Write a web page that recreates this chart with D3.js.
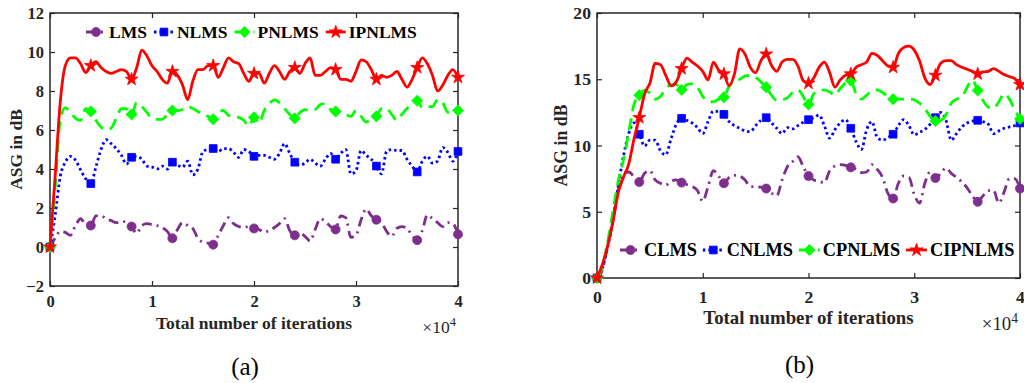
<!DOCTYPE html>
<html>
<head>
<meta charset="utf-8">
<script src="https://cdn.jsdelivr.net/npm/d3@7"></script>
<style>
  body { margin: 0; background: #fff; }
  text { font-family: "Liberation Serif", "Times New Roman", serif; }
</style>
</head>
<body>
<svg id="chart" width="1024" height="383"></svg>
<script>
// iteration grid shared by every series (every 500 iterations, 0 .. 40000)
const iterations = d3.range(0, 40001, 500);
const markerIters = d3.range(0, 40001, 4000);
const xTicks = [0, 10000, 20000, 30000, 40000];
const yTicksA = [-2, 0, 2, 4, 6, 8, 10, 12];
const yTicksB = [0, 5, 10, 15, 20];

const namesA = ["LMS", "NLMS", "PNLMS", "IPNLMS"];
const namesB = ["CLMS", "CNLMS", "CPNLMS", "CIPNLMS"];

// panel (a)
const lmsA = [0.0,0.45,0.8,0.75,0.6,1.1,1.45,1.15,1.1,1.6,
  1.6,1.45,1.35,1.25,1.3,1.3,1.05,0.7,1.1,1.2,
  1.15,1.1,1.0,0.8,0.45,0.9,1.25,1.1,0.95,0.45,
  0.25,0.2,0.12,0.6,1.1,1.5,1.2,1.05,1.0,1.05,
  0.95,0.9,0.75,0.85,1.0,1.2,1.45,0.85,0.6,0.7,
  0.55,0.3,0.9,1.45,1.3,1.05,0.9,1.6,1.5,0.5,
  0.6,1.4,1.95,1.6,1.4,1.25,0.8,0.55,0.95,1.05,
  0.95,0.6,0.35,0.85,1.65,1.45,1.25,1.05,1.25,1.2,
  0.65];
const nlmsA = [0,1.6,3.6,4.35,4.65,4.45,3.95,3.5,3.25,4.1,
  5.0,5.5,5.3,5.05,4.7,4.25,4.6,4.65,4.5,4.15,
  4.1,4.0,4.15,4.0,4.35,4.2,4.1,4.4,3.7,4.0,
  4.9,5.0,5.05,4.9,5.05,5.05,4.85,4.6,5.0,4.9,
  4.65,4.7,4.7,4.6,4.5,4.8,5.3,4.8,4.35,4.2,
  4.3,4.5,4.3,4.15,4.5,4.8,4.5,4.8,5.0,3.75,
  3.9,4.95,4.7,4.5,4.15,3.75,4.9,5.0,4.95,4.95,
  4.5,4.15,3.85,4.4,4.65,4.3,4.4,5.1,4.85,4.4,
  4.9];
const pnlmsA = [0,3.0,6.5,7.15,6.9,6.6,6.5,7.1,6.95,6.5,
  6.15,6.0,6.1,6.6,7.1,7.1,6.8,7.4,7.2,6.9,
  6.6,6.55,6.55,6.8,7.0,7.0,7.05,7.2,7.1,6.95,
  6.8,6.7,6.55,6.9,7.0,6.75,6.7,6.65,6.5,6.2,
  6.65,6.35,7.0,7.35,7.55,7.4,7.1,6.8,6.6,6.9,
  7.05,7.0,7.05,7.3,7.35,7.05,6.95,6.9,6.8,6.7,
  7.0,6.7,6.4,6.6,6.7,7.1,7.1,6.8,6.5,6.8,
  7.1,7.35,7.5,7.15,7.2,7.2,7.55,7.4,6.9,6.95,
  7.0];
const ipnlmsA = [0,3.6,7.4,9.3,9.7,9.7,9.4,8.95,9.3,9.5,
  9.2,9.0,8.9,9.0,9.1,9.0,8.6,9.2,10.1,9.8,
  9.3,9.0,8.6,8.4,9.0,8.8,8.3,7.55,8.5,9.1,
  9.1,9.3,9.3,8.7,9.2,9.7,9.5,9.4,8.9,8.5,
  8.9,8.9,8.4,8.9,9.3,9.0,8.6,9.0,9.2,8.9,
  9.4,9.7,8.8,8.8,9.0,9.2,9.1,8.6,8.6,8.5,
  9.0,9.6,9.5,9.1,8.6,8.8,8.7,8.8,9.0,8.6,
  8.2,8.6,9.2,9.7,9.4,8.8,8.0,8.3,8.8,9.1,
  8.7];

// panel (b)
const clmsB = [0,0.6,2.4,4.4,6.6,7.9,8.0,7.65,7.25,7.9,
  8.1,7.4,7.15,7.0,7.3,7.4,7.2,7.05,6.9,6.6,
  5.8,6.9,8.1,7.7,7.15,7.6,7.75,7.7,7.4,6.9,
  6.9,6.85,6.75,6.4,6.2,7.4,8.4,8.8,9.15,8.4,
  7.7,7.4,7.3,7.2,8.1,8.45,8.55,8.5,8.35,8.2,
  7.95,8.0,8.55,8.2,7.6,6.4,6.0,7.15,7.7,7.6,
  6.3,5.65,7.15,8.0,7.55,7.9,8.3,7.9,7.6,7.25,
  6.8,6.2,5.75,6.2,6.6,6.6,5.65,6.5,7.5,7.5,
  6.75];
const cnlmsB = [0,0.7,2.3,4.3,6.9,9.2,10.9,11.7,10.85,9.95,
  10.4,10.4,9.6,9.3,10.5,11.6,12.05,11.9,11.7,11.35,
  10.9,11.8,12.6,12.55,12.35,11.8,11.5,11.3,11.1,11.05,
  11.5,11.9,12.1,11.7,11.3,10.9,11.35,11.25,11.5,11.75,
  11.95,12.1,12.3,11.5,10.55,11.2,11.7,11.95,11.3,10.3,
  9.7,11.2,11.8,10.6,10.4,10.6,10.85,11.5,11.95,11.5,
  10.8,11.0,11.2,11.6,12.1,12.5,11.9,10.4,10.9,11.4,
  11.7,11.85,11.9,11.8,11.6,10.9,11.1,11.3,11.4,11.5,
  11.7];
const cpnlmsB = [0,0.8,2.7,5.0,7.3,8.9,11.0,13.1,13.8,14.15,
  13.95,13.5,13.7,14.3,14.6,14.6,14.2,14.6,14.65,14.4,
  13.7,13.35,13.3,13.5,13.65,14.5,14.85,15.0,15.25,15.3,
  15.15,14.8,14.4,13.8,13.4,13.45,13.6,14.0,14.2,13.7,
  13.1,13.9,14.1,14.2,14.05,13.8,14.3,14.7,14.9,13.9,
  13.5,13.8,14.1,14.2,14.0,13.7,13.5,13.5,13.5,13.5,
  13.45,13.2,12.8,12.2,11.85,11.9,12.3,13.2,13.5,13.65,
  14.4,14.95,14.15,13.4,12.9,12.8,13.3,13.9,13.5,12.7,
  12.0];
const cipnlmsB = [0,1.0,2.4,4.2,6.4,7.6,8.6,10.5,12.1,13.9,
  14.7,16.2,16.1,15.3,14.5,14.8,15.8,16.6,16.3,16.0,
  15.6,14.95,16.3,15.7,15.4,14.5,15.4,17.3,16.9,15.9,
  15.5,16.4,16.9,16.05,15.6,16.3,16.5,16.5,16.0,14.9,
  14.7,15.1,15.9,16.3,15.5,14.4,14.95,15.3,15.4,15.9,
  16.1,16.3,16.95,16.8,16.4,16.0,15.9,16.95,17.4,17.5,
  17.2,16.4,15.1,14.6,15.3,16.2,16.4,16.4,16.1,15.9,
  15.75,15.6,15.4,15.55,15.6,15.8,15.6,15.35,15.2,15.05,
  14.6];

const colors = ["#7E2F8E", "#0000FF", "#00FF00", "#FF0000"];
const dashes = ["10,5,2,5", "2.5,3", "12,7", null];
const symbols = [d3.symbolCircle, d3.symbolSquare, d3.symbolDiamond2, d3.symbolStar];
const symbolSizes = [64, 60, 80, 52];

const svg = d3.select("#chart");
const axisColor = "#262626";

const panels = [
  { left: 50, right: 458, top: 13, bottom: 286, yDomain: [-2, 12], yTicks: yTicksA,
    names: namesA, data: [lmsA, nlmsA, pnlmsA, ipnlmsA],
    tickFont: 16.5, labelFont: 17.5, yLabelFont: 17.5, legendFont: 17.5,
    xPad: 9, titleY: 43, expY: 47, yLabelX: 22, caption: "(a)", captionY: 375,
    legendX: 86, legendY: 32, legendLine: 20, legendGap: 7 },
  { left: 597, right: 1020, top: 13, bottom: 278, yDomain: [0, 20], yTicks: yTicksB,
    names: namesB, data: [clmsB, cnlmsB, cpnlmsB, cipnlmsB],
    tickFont: 17.7, labelFont: 18.8, yLabelFont: 17.8, legendFont: 18.3,
    xPad: 12, titleY: 46, expY: 52, yLabelX: 567, caption: "(b)", captionY: 373,
    legendX: 620, legendY: 250, legendLine: 21, legendGap: 6 }
];

function styleAxis(sel, fontSize) {
  sel.attr("font-family", null).attr("font-size", null);
  sel.select(".domain").remove();
  sel.selectAll(".tick line").attr("stroke", axisColor).attr("stroke-width", 1.2);
  sel.selectAll(".tick text")
    .attr("fill", axisColor)
    .style("font-size", fontSize + "px")
    .style("font-weight", "bold");
}

panels.forEach(p => {
  const g = svg.append("g");
  const x = d3.scaleLinear().domain([0, 40000]).range([p.left, p.right]);
  const y = d3.scaleLinear().domain(p.yDomain).range([p.bottom, p.top]);

  g.append("g").attr("transform", `translate(0,${p.bottom})`)
    .call(d3.axisBottom(x).tickValues(xTicks).tickFormat(d => d / 1e4).tickSize(-5).tickPadding(p.xPad))
    .call(s => styleAxis(s, p.tickFont));
  g.append("g").attr("transform", `translate(0,${p.top})`)
    .call(d3.axisTop(x).tickValues(xTicks).tickFormat("").tickSize(-5))
    .call(s => styleAxis(s, p.tickFont));
  g.append("g").attr("transform", `translate(${p.left},0)`)
    .call(d3.axisLeft(y).tickValues(p.yTicks).tickSize(-5).tickPadding(6))
    .call(s => styleAxis(s, p.tickFont));
  g.append("g").attr("transform", `translate(${p.right},0)`)
    .call(d3.axisRight(y).tickValues(p.yTicks).tickFormat("").tickSize(-5))
    .call(s => styleAxis(s, p.tickFont));

  g.append("rect")
    .attr("x", p.left).attr("y", p.top)
    .attr("width", p.right - p.left).attr("height", p.bottom - p.top)
    .attr("fill", "none").attr("stroke", axisColor).attr("stroke-width", 1.5);

  // series
  const line = d3.line()
    .x((d, i) => x(iterations[i]))
    .y(d => y(d))
    .curve(d3.curveMonotoneX);

  p.data.forEach((vals, k) => {
    g.append("path")
      .attr("d", line(vals))
      .attr("fill", "none")
      .attr("stroke", colors[k])
      .attr("stroke-width", 2.8)
      .attr("stroke-dasharray", dashes[k])
      .attr("stroke-linejoin", "round");
    g.selectAll(null)
      .data(markerIters)
      .join("path")
      .attr("d", d3.symbol(symbols[k], symbolSizes[k]))
      .attr("transform", it => `translate(${x(it)},${y(vals[it / 500])})`)
      .attr("fill", colors[k])
      .attr("stroke", colors[k])
      .attr("stroke-width", 0.8);
  });

  // legend
  const leg = g.append("g").attr("transform", `translate(${p.legendX},${p.legendY})`);
  let cx = 0;
  p.names.forEach((name, k) => {
    const it = leg.append("g").attr("transform", `translate(${cx},0)`);
    it.append("line")
      .attr("x1", 0).attr("x2", p.legendLine).attr("y1", 0).attr("y2", 0)
      .attr("stroke", colors[k]).attr("stroke-width", 2.8)
      .attr("stroke-dasharray", dashes[k]);
    it.append("path")
      .attr("d", d3.symbol(symbols[k], symbolSizes[k]))
      .attr("transform", `translate(${p.legendLine / 2},0)`)
      .attr("fill", colors[k]).attr("stroke", colors[k]).attr("stroke-width", 0.8);
    const t = it.append("text")
      .attr("x", p.legendLine + 3).attr("y", 0).attr("dy", "0.35em")
      .style("font-size", p.legendFont + "px").style("font-weight", "bold")
      .attr("fill", "#000")
      .text(name);
    cx += p.legendLine + 3 + t.node().getComputedTextLength() + p.legendGap;
  });

  // axis titles
  g.append("text")
    .attr("x", (p.left + p.right) / 2).attr("y", p.bottom + p.titleY)
    .attr("text-anchor", "middle")
    .style("font-size", p.labelFont + "px").style("font-weight", "bold")
    .attr("fill", axisColor)
    .text("Total number of iterations");

  const ex = g.append("text")
    .attr("x", p.right - 2).attr("y", p.bottom + p.expY)
    .attr("text-anchor", "end")
    .style("font-size", p.labelFont + "px")
    .attr("fill", axisColor);
  ex.append("tspan").text("\u00d710");
  ex.append("tspan").attr("dy", -7).style("font-size", (p.labelFont * 0.72) + "px").text("4");

  g.append("text")
    .attr("transform", `translate(${p.yLabelX},${(p.top + p.bottom) / 2}) rotate(-90)`)
    .attr("text-anchor", "middle")
    .style("font-size", p.yLabelFont + "px").style("font-weight", "bold")
    .attr("fill", axisColor)
    .text("ASG in dB");

  g.append("text")
    .attr("x", (p.left + p.right) / 2 - 9).attr("y", p.captionY)
    .attr("text-anchor", "middle")
    .style("font-size", "25px")
    .attr("fill", "#000")
    .text(p.caption);
});
</script>
</body>
</html>
